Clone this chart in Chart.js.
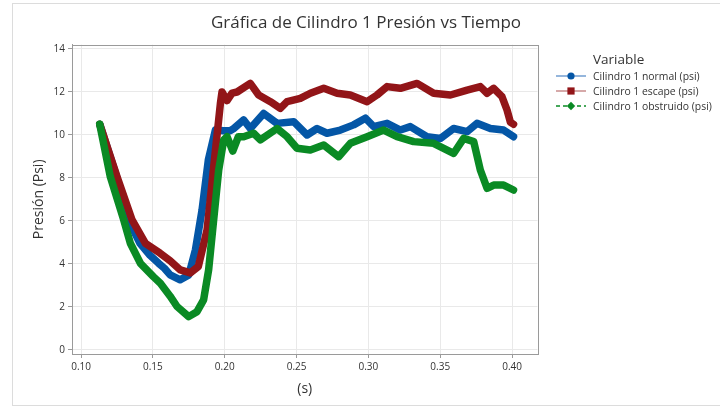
<!DOCTYPE html>
<html>
<head>
<meta charset="utf-8">
<script src="https://cdn.jsdelivr.net/npm/chart.js@4.4.1/dist/chart.umd.min.js"></script>
<style>
  html, body { margin: 0; padding: 0; background: #fff; }
  #wrap { position: relative; width: 720px; height: 408px; overflow: hidden; font-family: "Open Sans", sans-serif; }
  #frame { position: absolute; left: 12px; top: 3px; width: 720px; height: 403px; border: 1px solid #dcdcdc; box-sizing: border-box; }
  #chart { position: absolute; left: 0; top: 0; }
  #title { position: absolute; left: 0; width: 732px; top: 10px; text-align: center; font-size: 17px; color: #333; }
  #legend { position: absolute; left: 556px; top: 50px; font-size: 10.4px; color: #333; }
  #legend .head { font-size: 13.5px; color: #333; margin-left: 37px; line-height: 18px; }
  #legend .item { display: flex; align-items: center; height: 15px; }
  #legend svg { margin-right: 7px; }
</style>
</head>
<body>
<div id="wrap">
  <div id="frame"></div>
  <canvas id="chart" width="720" height="408"></canvas>
  <div id="title">Gráfica de Cilindro 1 Presión vs Tiempo</div>
  <div id="legend"></div>
</div>
<script>
// Series: time (s) and pressure (psi)
const seriesNames = ['Cilindro 1 normal (psi)', 'Cilindro 1 escape (psi)', 'Cilindro 1 obstruido (psi)'];

const normalT = [0.113, 0.125, 0.133, 0.141, 0.148, 0.154, 0.158, 0.162, 0.169, 0.175, 0.1796, 0.1842, 0.1886, 0.1935,
  0.199, 0.2039, 0.2062, 0.2132, 0.2178, 0.2271, 0.2364, 0.248, 0.2573, 0.2643, 0.2712, 0.2805, 0.2897, 0.2979,
  0.3037, 0.313, 0.3222, 0.3292, 0.3408, 0.3501, 0.3593, 0.3687, 0.3756, 0.3849, 0.3941, 0.401];
const normalP = [10.5, 8.0, 6.05, 4.96, 4.4, 4.03, 3.8, 3.49, 3.26, 3.49, 4.65, 6.5, 8.84, 10.23,
  10.2, 10.2, 10.3, 10.7, 10.3, 11.0, 10.54, 10.62, 10.0, 10.3, 10.08, 10.23, 10.47, 10.78,
  10.39, 10.54, 10.23, 10.39, 9.92, 9.84, 10.3, 10.16, 10.54, 10.3, 10.23, 9.92];

const escapeT = [0.113, 0.1251, 0.1355, 0.1448, 0.155, 0.162, 0.1691, 0.1761, 0.1816, 0.1877, 0.1921, 0.197, 0.1981,
  0.2016, 0.2051, 0.2086, 0.2178, 0.2236, 0.2318, 0.2387, 0.2434, 0.2526, 0.2596, 0.2689, 0.2782, 0.2874, 0.2991,
  0.306, 0.313, 0.3222, 0.3339, 0.3454, 0.3571, 0.3687, 0.3779, 0.3826, 0.3872, 0.393, 0.3965, 0.3988, 0.401];
const escapeP = [10.5, 8.05, 6.05, 4.96, 4.5, 4.15, 3.72, 3.58, 3.88, 5.58, 8.37, 11.47, 12.0,
  11.6, 11.95, 12.0, 12.4, 11.86, 11.55, 11.24, 11.55, 11.7, 11.94, 12.17, 11.94, 11.86, 11.55,
  11.86, 12.25, 12.17, 12.4, 11.94, 11.86, 12.09, 12.25, 11.94, 12.17, 11.78, 11.16, 10.6, 10.5];

const obstT = [0.113, 0.1204, 0.1297, 0.1343, 0.1413, 0.1503, 0.1552, 0.162, 0.1668, 0.1749, 0.1807, 0.1853, 0.1888,
  0.1923, 0.1958, 0.1993, 0.2016, 0.2056, 0.2095, 0.2132, 0.2201, 0.2248, 0.2364, 0.2434, 0.2503, 0.2596, 0.2689,
  0.2793, 0.2874, 0.2991, 0.3106, 0.32, 0.3315, 0.3454, 0.3593, 0.3663, 0.3733, 0.3779, 0.3826, 0.3872, 0.3941, 0.401];
const obstP = [10.5, 8.05, 6.05, 4.96, 4.03, 3.41, 3.1, 2.5, 2.02, 1.55, 1.78, 2.33, 3.72,
  6.05, 8.37, 9.77, 9.92, 9.25, 9.92, 9.92, 10.08, 9.77, 10.3, 9.92, 9.38, 9.3, 9.53,
  8.99, 9.61, 9.92, 10.23, 9.92, 9.69, 9.61, 9.14, 9.84, 9.69, 8.37, 7.52, 7.67, 7.67, 7.44];

const xTicks = [0.10, 0.15, 0.20, 0.25, 0.30, 0.35, 0.40];
const yTicks = [0, 2, 4, 6, 8, 10, 12, 14];

const colors = ['#0456a6', '#921518', '#0a8a24'];
const legendLine = ['#5b8fc9', '#c07a7a', '#0a8a24'];

function pairs(ts, ps) { return ts.map((t, i) => ({ x: t, y: ps[i] })); }

// frame round the data region
const boxPlugin = {
  id: 'box',
  afterDatasetsDraw(chart) {
    const { ctx, chartArea: a } = chart;
    ctx.save();
    ctx.strokeStyle = '#9a9a9a';
    ctx.lineWidth = 1;
    ctx.strokeRect(Math.round(a.left) + 0.5, Math.round(a.top) + 0.5, Math.round(a.right - a.left), Math.round(a.bottom - a.top));
    ctx.restore();
  }
};

const tickFont = { family: '"Open Sans", sans-serif', size: 10 };
const titleFont = { family: '"Open Sans", sans-serif', size: 14 };

new Chart(document.getElementById('chart'), {
  type: 'line',
  data: {
    datasets: [
      { label: seriesNames[0], data: pairs(normalT, normalP), borderColor: colors[0], order: 2 },
      { label: seriesNames[1], data: pairs(escapeT, escapeP), borderColor: colors[1], order: 1 },
      { label: seriesNames[2], data: pairs(obstT, obstP), borderColor: colors[2], order: 0 },
    ],
  },
  options: {
    responsive: false,
    animation: false,
    layout: { padding: { left: 12, right: 182.5, top: 44.7, bottom: 0 } },
    elements: {
      line: { borderWidth: 7.5, tension: 0, borderJoinStyle: 'round', borderCapStyle: 'round', fill: false },
      point: { radius: 0, hoverRadius: 0 },
    },
    plugins: { legend: { display: false }, tooltip: { enabled: false } },
    scales: {
      x: {
        type: 'linear',
        min: 0.0937, max: 0.4177,
        afterBuildTicks: s => { s.ticks = xTicks.map(v => ({ value: v })); },
        afterFit: s => { s.height = 408 - 354; },
        ticks: { color: '#333', font: tickFont, padding: 3, callback: v => v.toFixed(2), maxRotation: 0 },
        grid: { color: '#e9e9e9', tickColor: '#9a9a9a', tickLength: 4 },
        border: { color: '#9a9a9a' },
        title: { display: true, text: '(s)', color: '#333', font: titleFont, padding: { top: 0, bottom: 11 } },
      },
      y: {
        min: -0.19, max: 14.2,
        afterBuildTicks: s => { s.ticks = yTicks.map(v => ({ value: v })); },
        afterFit: s => { s.width = 60; },
        ticks: { color: '#333', font: tickFont, padding: 3 },
        grid: { color: '#e9e9e9', tickColor: '#9a9a9a', tickLength: 4 },
        border: { color: '#9a9a9a' },
        title: { display: true, text: 'Presión (Psi)', color: '#333', font: titleFont, padding: { top: 19, bottom: 0 } },
      },
    },
  },
  plugins: [boxPlugin],
});

// legend in the Minitab style: line with marker
const markers = [
  '<circle cx="15" cy="5" r="3.6" fill="#0456a6"/>',
  '<rect x="11.4" y="1.4" width="7.2" height="7.2" fill="#921518"/>',
  '<polygon points="15,0.8 19.2,5 15,9.2 10.8,5" fill="#0a8a24"/>',
];
const leg = document.getElementById('legend');
leg.innerHTML = '<div class="head">Variable</div>' + seriesNames.map((name, i) => `
  <div class="item">
    <svg width="30" height="10"><line x1="0" y1="5" x2="30" y2="5" stroke="${legendLine[i]}" stroke-width="1.3" ${i === 2 ? 'stroke-dasharray="4 3"' : ''}/>${markers[i]}</svg>
    <span>${name}</span>
  </div>`).join('');
</script>
</body>
</html>
